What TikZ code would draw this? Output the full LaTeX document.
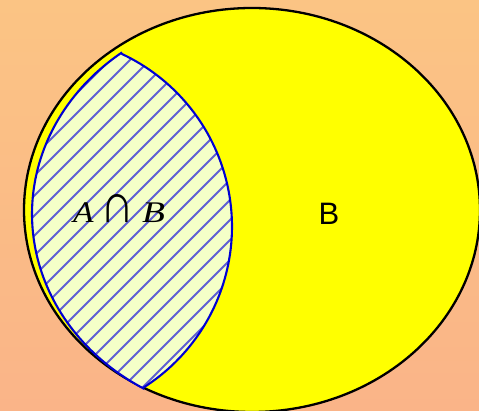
\documentclass[tikz,border=0pt]{standalone}
\usepackage{fontspec}
\usepackage{graphicx}
\setmainfont{Liberation Serif}
\newfontfamily\labelsans{Liberation Sans}
\definecolor{bgtop}{RGB}{251,196,132}
\definecolor{bgmid}{RGB}{249,168,126}
\definecolor{bgbot}{RGB}{250,180,136}
\definecolor{setyellow}{RGB}{255,255,0}
\definecolor{hatchbg}{RGB}{244,255,200}
\definecolor{hatchblue}{RGB}{95,95,212}
\definecolor{lensblue}{RGB}{0,0,210}
\newcommand{\lensshape}{plot[domain=127.5:239.1, samples=80] ({260+228*cos(\x)},{214-203*sin(\x)})
  -- plot[domain=-57.6:64.7, samples=80] ({40+192*cos(\x)},{226.7-191*sin(\x)}) -- cycle}
\begin{document}
\begin{tikzpicture}[x=1pt, y=-1pt,
    setB/.style={fill=setyellow, draw=black, line width=2.3pt},
    hatchline/.style={hatchblue, line width=1.9pt},
    lensborder/.style={draw=lensblue, line width=2.1pt, line join=miter}]

    \useasboundingbox (0,0) rectangle (479,411);
    \clip (0,0) rectangle (479,411);
    \shade[top color=bgtop, middle color=bgmid, bottom color=bgbot] (0,0) rectangle (479,411);

    \coordinate (centerB) at (252,210);

    \draw[setB] (centerB) ellipse [x radius=228, y radius=202];

    \begin{scope}
        \clip \lensshape;
        \fill[hatchbg] (0,0) rectangle (479,411);
        \foreach \i in {-380,-360,...,260}
            \draw[hatchline] (\i,410) -- (\i+410,0);
    \end{scope}
    \draw[lensborder] \lensshape;

    \node (AcapB) [anchor=base west, inner sep=0pt] at (73,222.5) {\fontsize{30}{33}\selectfont\itshape
        \scalebox{1.12}[1]{A}\hspace{6.5pt}\resizebox{34pt}{28pt}{\upshape ∩}\hspace{8pt}\scalebox{1.25}[1]{B}};
    \node (labelB) [anchor=base west, inner sep=0pt] at (318.5,225) {\fontsize{31}{34}\selectfont\labelsans B};

\end{tikzpicture}
\end{document}
